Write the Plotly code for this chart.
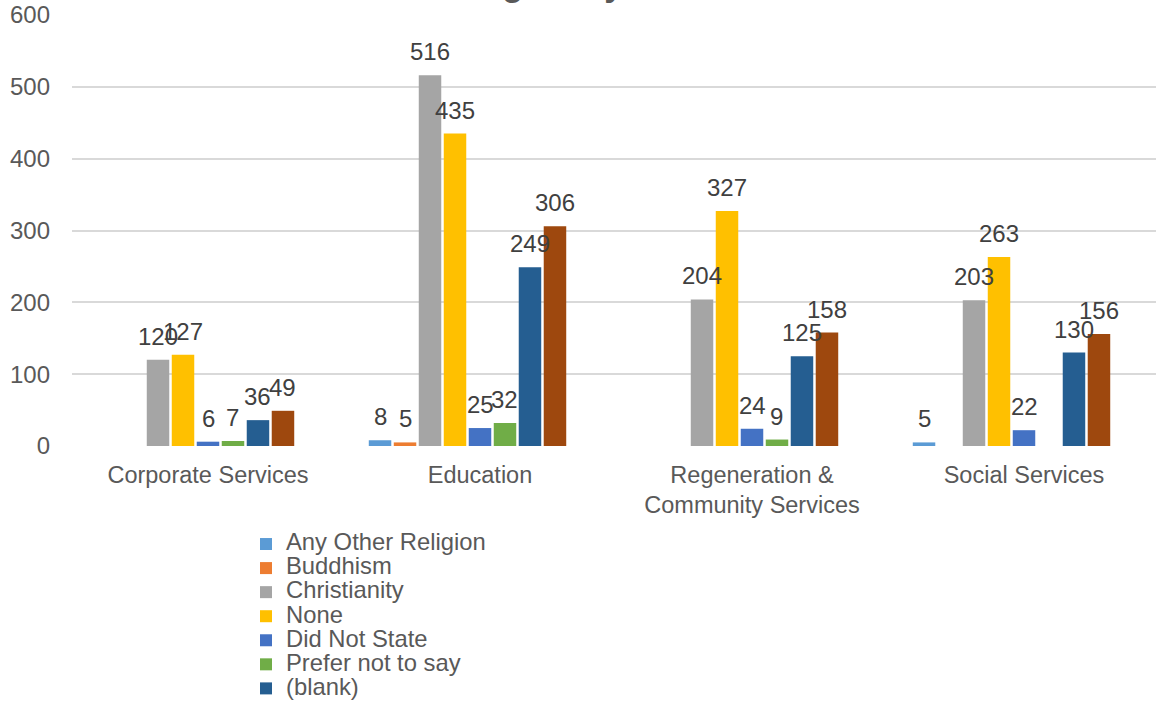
import plotly.graph_objects as go

categories = ["Corporate Services", "Education", "Regeneration &<br>Community Services", "Social Services"]

series_names = ["Any Other Religion", "Buddhism", "Christianity", "None",
                "Did Not State", "Prefer not to say", "(blank)", "Other", "Unknown"]
series_colors = ["#5B9BD5", "#ED7D31", "#A5A5A5", "#FFC000",
                 "#4472C4", "#70AD47", "#255E91", "#9E480E", "#636363"]

any_other = [None, 8, None, 5]
buddhism = [None, 5, None, None]
christianity = [120, 516, 204, 203]
none_rel = [127, 435, 327, 263]
did_not_state = [6, 25, 24, 22]
prefer_not = [7, 32, 9, None]
blank = [36, 249, 125, 130]
other = [49, 306, 158, 156]
unknown = [None, None, None, None]

series_values = [any_other, buddhism, christianity, none_rel, did_not_state,
                 prefer_not, blank, other, unknown]
legend_visible = [True, True, True, True, True, True, True, False, False]

title_text = "Religion by Directorate"
y_ticks = [0, 100, 200, 300, 400, 500, 600]

FONT = "Liberation Sans, Arial, sans-serif"
BARGAP = 0.173
n = len(series_names)
xpos = list(range(len(categories)))

fig = go.Figure()
for name, color, vals, show in zip(series_names, series_colors, series_values, legend_visible):
    label = f"<span style='font-size:23.8px'>{name}</span>" if show else name
    fig.add_trace(go.Bar(
        x=xpos, y=vals, name=label,
        marker=dict(color=color, line=dict(width=0)),
        showlegend=show,
    ))

# data labels
slot = (1 - BARGAP) / n
annotations = []
for i, vals in enumerate(series_values):
    for j, v in enumerate(vals):
        if v is None:
            continue
        annotations.append(dict(
            x=xpos[j] + (i - (n - 1) / 2) * slot, y=v, xref="x", yref="y",
            text=str(v), showarrow=False, yanchor="bottom", xanchor="center",
            yshift=8, font=dict(family=FONT, size=24, color="#404040"),
        ))

annotations.append(dict(
    x=0.5, y=1, xref="paper", yref="paper", text=f"<b>{title_text}</b>",
    showarrow=False, yanchor="bottom", xanchor="center", yshift=10, xshift=12,
    font=dict(family=FONT, size=34, color="#595959"),
))

fig.update_layout(
    width=1156, height=703,
    margin=dict(l=72, r=0, t=15, b=257, pad=0, autoexpand=False),
    paper_bgcolor="white", plot_bgcolor="white",
    barmode="group", bargap=BARGAP, bargroupgap=0.1,
    font=dict(family=FONT, color="#595959"),
    annotations=annotations,
    legend=dict(
        orientation="v", x=246 / 1156, xref="container", y=1 - 527 / 703, yref="container",
        xanchor="left", yanchor="top",
        font=dict(family=FONT, size=16.2, color="#595959"),
        itemwidth=30, tracegroupgap=0, bgcolor="rgba(0,0,0,0)",
        itemclick=False,
    ),
    xaxis=dict(
        range=[-0.5, -0.5 + 1084 / 272], tickmode="array", tickvals=xpos, ticktext=categories,
        showgrid=False, zeroline=False, showline=False, ticks="", tickangle=0,
        ticklabelstandoff=12,
        tickfont=dict(family=FONT, size=23.5, color="#595959"),
    ),
    yaxis=dict(
        range=[0, 600], tickvals=y_ticks, showgrid=True, gridcolor="#D9D9D9", gridwidth=1.5,
        zeroline=False, showline=False, ticks="", ticklabelstandoff=21,
        tickfont=dict(family=FONT, size=24, color="#595959"),
    ),
)

fig.write_html("out.html")
